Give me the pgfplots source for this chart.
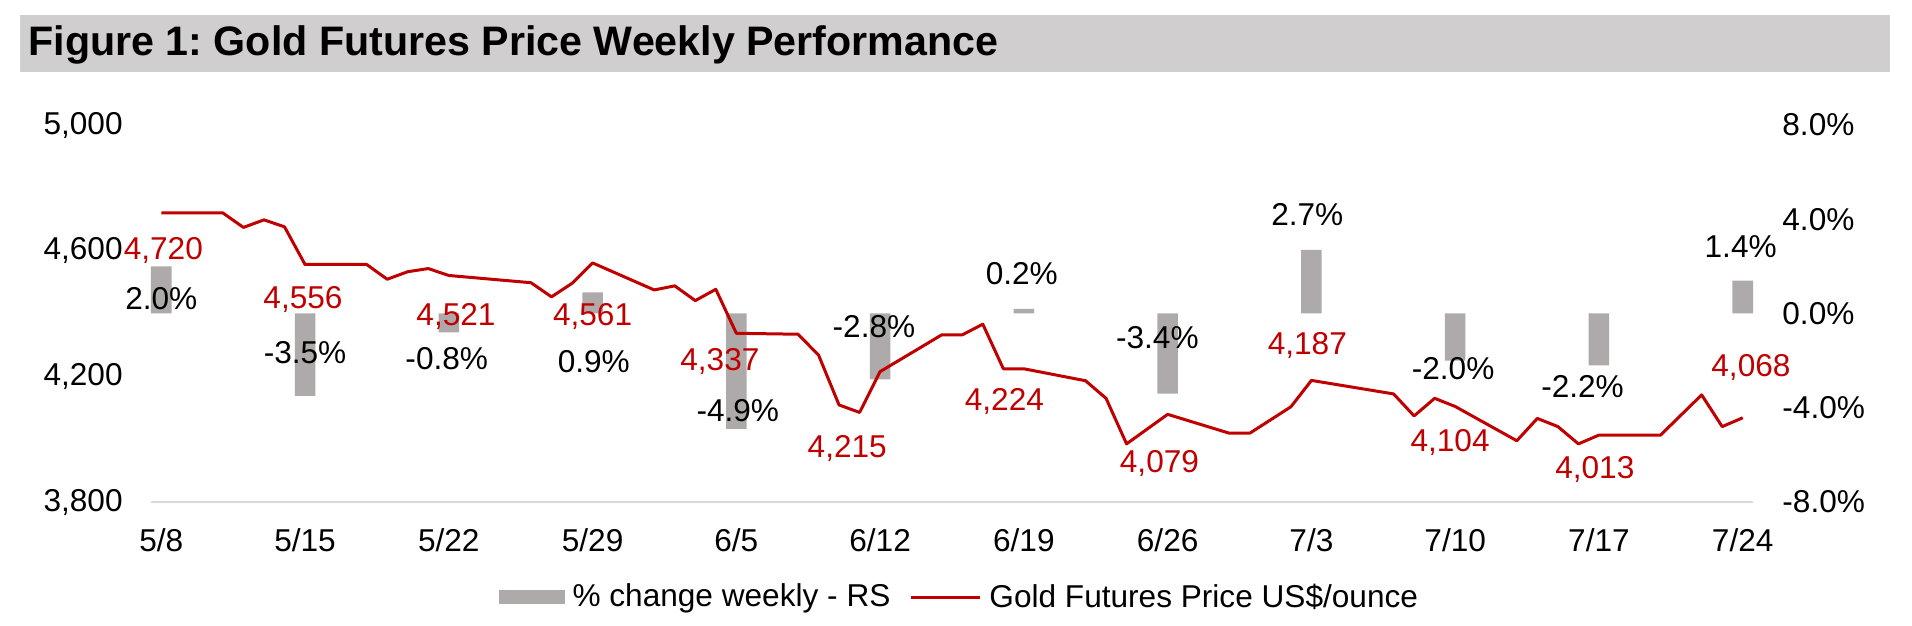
\documentclass[border=0pt]{standalone}
\usepackage{pgfplots}
\pgfplotsset{compat=1.18}
\usepackage{fontspec}
\setmainfont{Liberation Sans}
\frenchspacing
\definecolor{goldred}{HTML}{C00000}
\definecolor{bargray}{HTML}{AEAAAA}
\definecolor{titlegray}{HTML}{D0CECE}
\definecolor{axisgray}{HTML}{D9D9D9}
\newcommand{\lblfont}{\fontsize{15.8pt}{19pt}\selectfont}
\begin{document}
\begin{tikzpicture}
\pgfplotsset{
  base/.style={
    scale only axis, width=801pt, height=188.5pt,
    xmin=-0.5, xmax=77.5,
    major tick length=0pt,
    tick label style={font=\lblfont},
    at={(0pt,0pt)}, anchor=south west,
  }
}
\fill[titlegray] (-65.5pt,215pt) rectangle (869.5pt,243.5pt);
\node[anchor=base west, inner sep=0pt, font=\fontsize{20.6pt}{24pt}\selectfont\bfseries] at (-61.5pt,223pt) {Figure 1: Gold Futures Price Weekly Performance};
\begin{axis}[base, name=bars,
  ymin=-8, ymax=8,
  axis y line*=right, axis x line*=bottom,
  x axis line style={draw=axisgray, line width=1pt, -},
  y axis line style={draw=none},
  xtick={0,7,14,21,28,35,42,49,56,63,70,77},
  xticklabels={5/8,5/15,5/22,5/29,6/5,6/12,6/19,6/26,7/3,7/10,7/17,7/24},
  xticklabel style={inner sep=0pt, yshift=-13pt},
  ytick={-8,-4,0,4,8},
  yticklabels={-8.0\%,-4.0\%,0.0\%,4.0\%,8.0\%},
  yticklabel style={inner sep=0pt, xshift=14.5pt},
]
\addplot[ybar, bar width=1, bar shift=0pt, fill=bargray, draw=none] table {
x y
0 2.0
7 -3.5
14 -0.8
21 0.9
28 -4.9
35 -2.8
42 0.2
49 -3.4
56 2.7
63 -2.0
70 -2.2
77 1.4
};
\end{axis}
\begin{axis}[base,
  ymin=3800, ymax=5000,
  axis y line*=left, axis x line=none,
  y axis line style={draw=none},
  ytick={3800,4200,4600,5000},
  yticklabels={{3,800},{4,200},{4,600},{5,000}},
  yticklabel style={inner sep=0pt, xshift=-14pt},
  clip=false,
  legend style={at={(axis description cs:0.504,-0.252)}, anchor=center, draw=none, fill=none, font=\lblfont, legend columns=2, inner sep=0pt, nodes={inner sep=0pt},
    /tikz/every odd column/.append style={column sep=4pt},
    /tikz/every even column/.append style={column sep=9.5pt}},
]
\addlegendimage{legend image code/.code={\fill[bargray] (0pt,-3.25pt) rectangle (32.5pt,3.25pt);}}
\addlegendentry{\% change weekly - RS}
\addplot[goldred, line width=1.5pt, line join=round, no marks,
  legend image code/.code={\draw[goldred, line width=1.5pt] (0pt,0pt) -- (34.5pt,0pt);}] table {
x y
0 4720
3 4720
4 4674
5 4698
6 4676
7 4556
10 4556
11 4509
12 4533
13 4543
14 4521
18 4498
19 4453
20 4496
21 4561
24 4475
25 4488
26 4441
27 4477
28 4337
31 4334
32 4268
33 4109
34 4085
35 4215
38 4332
39 4332
40 4366
41 4224
42 4224
45 4186
46 4130
47 3985
49 4079
52 4019
53 4019
55 4103
56 4187
60 4144
61 4074
62 4130
63 4104
66 3995
67 4066
68 4040
69 3985
70 4013
73 4013
75 4141
76 4040
77 4068
};
\addlegendentry{Gold Futures Price US\$/ounce}
% bar value labels
\begin{scope}[every node/.style={font=\lblfont, inner sep=0pt, anchor=center}]
\node at (axis cs:0,4446) {2.0\%};
\node at (axis cs:7,4277) {-3.5\%};
\node at (axis cs:13.9,4255) {-0.8\%};
\node at (axis cs:21.06,4246) {0.9\%};
\node at (axis cs:28.07,4090) {-4.9\%};
\node at (axis cs:34.7,4357) {-2.8\%};
\node at (axis cs:41.9,4526) {0.2\%};
\node at (axis cs:48.5,4322) {-3.4\%};
\node at (axis cs:55.8,4714) {2.7\%};
\node at (axis cs:62.9,4223) {-2.0\%};
\node at (axis cs:69.2,4166) {-2.2\%};
\node at (axis cs:76.9,4612) {1.4\%};
% price labels
\node[text=goldred] at (axis cs:0.1,4602) {4,720};
\node[text=goldred] at (axis cs:6.9,4446) {4,556};
\node[text=goldred] at (axis cs:14.35,4389) {4,521};
\node[text=goldred] at (axis cs:21.0,4392) {4,561};
\node[text=goldred] at (axis cs:27.2,4246) {4,337};
\node[text=goldred] at (axis cs:33.4,3969) {4,215};
\node[text=goldred] at (axis cs:41.05,4121) {4,224};
\node[text=goldred] at (axis cs:48.6,3924) {4,079};
\node[text=goldred] at (axis cs:55.8,4297) {4,187};
\node[text=goldred] at (axis cs:62.75,3991) {4,104};
\node[text=goldred] at (axis cs:69.8,3902) {4,013};
\node[text=goldred] at (axis cs:77.4,4227) {4,068};
\end{scope}
\end{axis}
\pgfresetboundingbox
\path (-75.5pt,-62pt) rectangle (880.5pt,251pt);
\end{tikzpicture}
\end{document}
